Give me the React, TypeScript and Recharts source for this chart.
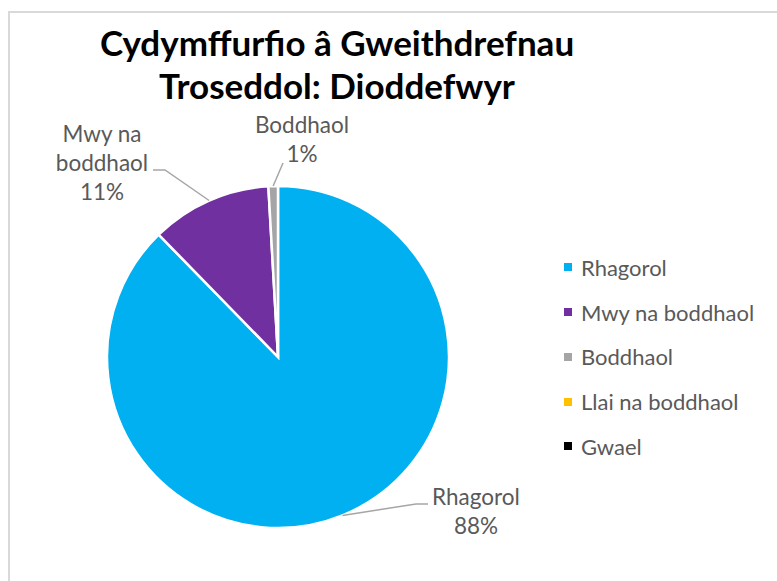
import * as React from 'react';
import { PieChart, Pie, Cell, Legend } from 'recharts';

const categories = ['Rhagorol', 'Mwy na boddhaol', 'Boddhaol', 'Llai na boddhaol', 'Gwael'];
const shares = [87.7, 11.4, 0.9, 0, 0];
const colours = ['#00B0F0', '#7030A0', '#A5A5A5', '#FFC000', '#000000'];
const labelLines = [['Rhagorol'], ['Mwy na', 'boddhaol'], ['Boddhaol'], ['Llai na boddhaol'], ['Gwael']];
const titleLines = ['Cydymffurfio â Gweithdrefnau', 'Troseddol: Dioddefwyr'];

const data = categories.map((name, i) => ({ name, value: shares[i] }));

// where each data label sits, relative to the pie centre
const labelPlacement = [
  { elbow: [138, 147], end: [150, 147], tx: 198, ty: 148 },
  { elbow: [-113, -187], end: [-125, -187], tx: -176, ty: -215 },
  { elbow: [5, -194], end: [5, -194], tx: 24, ty: -224 },
];

const FONT = 'Lato, "Liberation Sans", sans-serif';
const TEXT = '#595959';
const RAD = Math.PI / 180;

const renderLabel = (props: any) => {
  const { cx, cy, midAngle, outerRadius, percent, index } = props;
  const place = labelPlacement[index];
  if (!place || !percent) return null;
  const sx = cx + outerRadius * Math.cos(-midAngle * RAD);
  const sy = cy + outerRadius * Math.sin(-midAngle * RAD);
  const lines = [...labelLines[index], `${Math.round(percent * 100)}%`];
  return (
    <g key={`lbl-${index}`}>
      <polyline
        points={`${sx},${sy} ${cx + place.elbow[0]},${cy + place.elbow[1]} ${cx + place.end[0]},${cy + place.end[1]}`}
        fill="none"
        stroke="#A6A6A6"
        strokeWidth={1.5}
      />
      <text x={cx + place.tx} y={cy + place.ty} textAnchor="middle" fill={TEXT} fontFamily={FONT} fontSize={22.5}>
        {lines.map((l, k) => (
          <tspan key={k} x={cx + place.tx} dy={k === 0 ? 0 : 29}>
            {l}
          </tspan>
        ))}
      </text>
    </g>
  );
};

const renderLegend = () => (
  <div style={{ fontFamily: FONT, fontSize: 22, color: TEXT }}>
    {categories.map((c, i) => (
      <div key={c} style={{ height: 44.75, display: 'flex', alignItems: 'center' }}>
        <span style={{ width: 8, height: 8, background: colours[i], marginRight: 9, display: 'inline-block' }} />
        <span>{c}</span>
      </div>
    ))}
  </div>
);

export default function App() {
  return (
    <div style={{ position: 'absolute', left: 0, top: 0, width: 777, height: 581, overflow: 'hidden', background: '#fff' }}>
      <div
        style={{
          position: 'absolute',
          left: 8,
          top: 11,
          width: 800,
          height: 600,
          borderLeft: '2px solid #D9D9D9',
          borderTop: '2px solid #D9D9D9',
        }}
      />
      <div
        style={{
          position: 'absolute',
          left: 0,
          top: 21,
          width: 674,
          textAlign: 'center',
          fontFamily: FONT,
          fontWeight: 'bold',
          fontSize: 35,
          lineHeight: '43px',
          color: '#000',
        }}
      >
        {titleLines.map((t) => (
          <div key={t}>{t}</div>
        ))}
      </div>
      <div style={{ position: 'absolute', left: 0, top: 0 }}>
        <PieChart width={777} height={581} margin={{ top: 0, right: 0, bottom: 0, left: 0 }}>
          <Pie
            data={data}
            dataKey="value"
            nameKey="name"
            cx={278}
            cy={357}
            outerRadius={171}
            startAngle={90}
            endAngle={-270}
            stroke="#fff"
            strokeWidth={2.5}
            label={renderLabel}
            labelLine={false}
            isAnimationActive={false}
          >
            {data.map((d, i) => (
              <Cell key={d.name} fill={colours[i]} />
            ))}
          </Pie>
          <Legend
            content={renderLegend}
            layout="vertical"
            wrapperStyle={{ position: 'absolute', left: 564, top: 245, width: 210 }}
          />
        </PieChart>
      </div>
    </div>
  );
}
